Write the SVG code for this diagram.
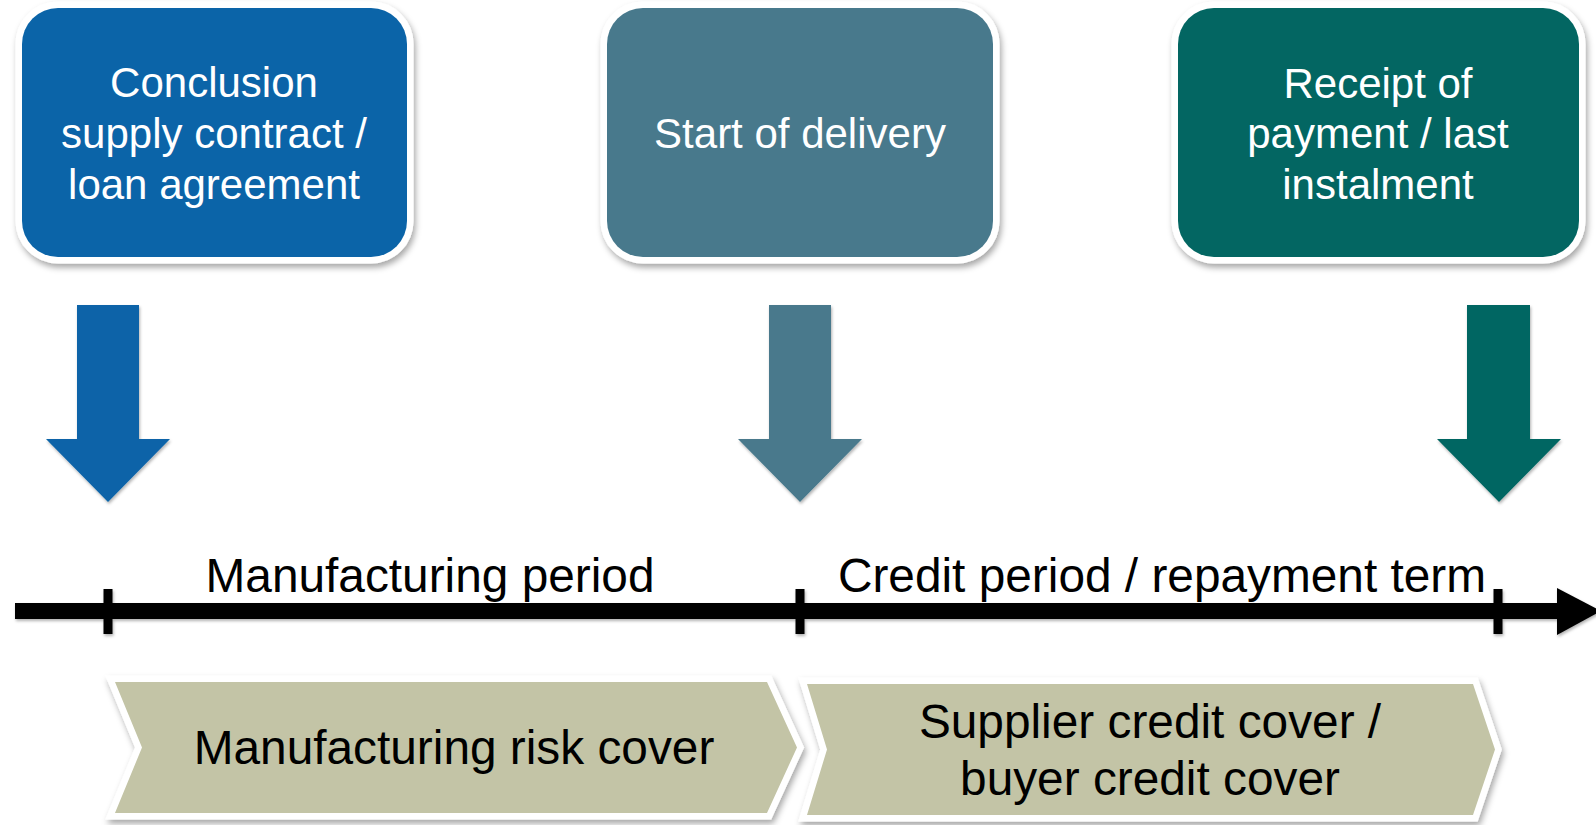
<svg xmlns="http://www.w3.org/2000/svg" width="1596" height="825" viewBox="0 0 1596 825">
  <defs>
    <filter id="sh" x="-10%" y="-10%" width="125%" height="130%">
      <feDropShadow dx="2" dy="4" stdDeviation="3" flood-color="#000" flood-opacity="0.35"/>
    </filter>
    <filter id="sh2" x="-10%" y="-10%" width="125%" height="130%">
      <feDropShadow dx="1" dy="2" stdDeviation="1.5" flood-color="#000" flood-opacity="0.3"/>
    </filter>
  </defs>
  <style>
    .frame { fill: #ffffff; stroke: #ffffff; stroke-width: 13; stroke-linejoin: miter; filter: url(#sh); }
    .lbl { font-family: "Liberation Sans", Arial, sans-serif; text-anchor: middle; }
    .w { fill: #ffffff; font-size: 42px; }
    .k { fill: #000000; font-size: 47.8px; }
    .c1 { fill: #0B64A8; }
    .c2 { fill: #48798C; }
    .c3 { fill: #036662; }
    .chev { fill: #C3C4A6; }
  </style>
  <rect width="1596" height="825" fill="#ffffff"/>

  <g id="node-conclusion">
    <rect class="frame" x="22" y="8" width="385" height="249" rx="36"/>
    <rect class="c1" x="22" y="8" width="385" height="249" rx="36"/>
    <text class="lbl w" x="214" y="97">Conclusion</text>
    <text class="lbl w" x="214" y="148">supply contract /</text>
    <text class="lbl w" x="214" y="199">loan agreement</text>
  </g>

  <g id="node-delivery">
    <rect class="frame" x="607" y="8" width="386" height="249" rx="36"/>
    <rect class="c2" x="607" y="8" width="386" height="249" rx="36"/>
    <text class="lbl w" x="800" y="148">Start of delivery</text>
  </g>

  <g id="node-payment">
    <rect class="frame" x="1178" y="8" width="401" height="249" rx="36"/>
    <rect class="c3" x="1178" y="8" width="401" height="249" rx="36"/>
    <text class="lbl w" x="1378" y="98">Receipt of</text>
    <text class="lbl w" x="1378" y="148">payment / last</text>
    <text class="lbl w" x="1378" y="199">instalment</text>
  </g>

  <g id="connectors">
    <polygon class="c1" filter="url(#sh2)" points="77,305 139,305 139,439 170,439 108,502 46,439 77,439"/>
    <polygon class="c2" filter="url(#sh2)" points="769,305 831,305 831,439 862,439 800,502 738,439 769,439"/>
    <polygon class="c3" filter="url(#sh2)" points="1467,305 1530,305 1530,439 1561,439 1499,502 1437,439 1467,439"/>
    <g filter="url(#sh2)" fill="#000000">
      <rect x="15" y="603" width="1545" height="16"/>
      <polygon points="1557,588 1601,611 1557,635"/>
      <rect x="103.5" y="589" width="9" height="45"/>
      <rect x="795.5" y="589" width="9" height="45"/>
      <rect x="1493.5" y="589" width="9" height="45"/>
    </g>
    <text class="lbl k" x="430" y="592">Manufacturing period</text>
    <text class="lbl k" x="1162" y="592">Credit period / repayment term</text>
  </g>

  <g id="node-manufacturing-cover">
    <polygon class="frame" points="115,682 767,682 797,747.5 767,813 115,813 142,747.5"/>
    <polygon class="chev" points="115,682 767,682 797,747.5 767,813 115,813 142,747.5"/>
    <text class="lbl k" x="454" y="764">Manufacturing risk cover</text>
  </g>

  <g id="node-credit-cover">
    <polygon class="frame" points="807,684 1473,684 1495,749.5 1473,815 807,815 827,749.5"/>
    <polygon class="chev" points="807,684 1473,684 1495,749.5 1473,815 807,815 827,749.5"/>
    <text class="lbl k" x="1150" y="738">Supplier credit cover /</text>
    <text class="lbl k" x="1150" y="795">buyer credit cover</text>
  </g>
</svg>
